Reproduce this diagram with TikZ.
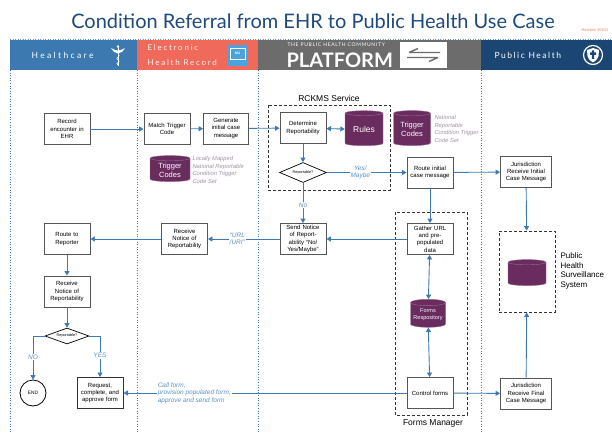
\documentclass[tikz,border=0pt]{standalone}
\usepackage{fontspec}
\setmainfont{Liberation Sans}
\newfontfamily\headfont{Lato}
\usetikzlibrary{arrows.meta,shapes.geometric}
\definecolor{titleblue}{RGB}{31,74,124}
\definecolor{hcblue}{RGB}{59,121,176}
\definecolor{ehrred}{RGB}{239,106,90}
\definecolor{platgray}{RGB}{108,108,108}
\definecolor{phnavy}{RGB}{27,70,115}
\definecolor{flowblue}{RGB}{61,122,181}
\definecolor{lblblue}{RGB}{92,147,201}
\definecolor{plum}{RGB}{106,43,95}
\definecolor{notegray}{RGB}{160,146,166}
\definecolor{boxgray}{RGB}{85,85,85}
\definecolor{mublue}{RGB}{74,163,223}
\definecolor{revorange}{RGB}{240,128,90}

\begin{document}
\begin{tikzpicture}[x=1pt,y=-1pt]
            \tikzstyle{every node}=[font=\fontsize{6}{7.3}\selectfont]
            \tikzstyle{procbox}=[draw=boxgray, line width=0.9pt, fill=white, minimum width=46pt, minimum height=31pt, text width=43pt, align=center, inner sep=1pt]
            \tikzstyle{decision}=[diamond, draw=black, line width=0.7pt, fill=white, aspect=2.4, minimum width=47pt, minimum height=20pt, inner sep=0pt, font=\fontsize{3.8}{4}\selectfont]
            \tikzstyle{db}=[cylinder, shape border rotate=90, aspect=0.22, fill=plum, draw=plum!70!white, line width=0.4pt, text=white, align=center, inner sep=0pt]
            \tikzstyle{note}=[anchor=west, align=left, text=notegray, font=\fontsize{5.8}{7.4}\selectfont\itshape]
            \tikzstyle{lbl}=[fill=white, text=lblblue, align=center, inner sep=1pt, font=\fontsize{6.5}{7.5}\selectfont\itshape]
            \tikzstyle{flow}=[draw=flowblue, line width=0.9pt, -{Triangle[length=4.5pt,width=5pt]}]
            \tikzstyle{twoway}=[flow, {Triangle[length=4.5pt,width=5pt]}-{Triangle[length=4.5pt,width=5pt]}]
            \tikzstyle{dashbox}=[draw=black!80, line width=0.8pt, dash pattern=on 3pt off 2pt]
            \tikzstyle{lane}=[draw=flowblue, line width=0.6pt, dotted]
            \useasboundingbox (0,0) rectangle (612,433);
            \node [font=\headfont\fontsize{20}{22}\selectfont, text=titleblue] (title) at (313,21) {Condition Referral from EHR to Public Health Use Case};
            \node [anchor=east, text=revorange, font=\fontsize{3.8}{4}\selectfont] (revised) at (612,30) {Revised: 8/3/15};
            \draw [draw=lblblue, line width=0.5pt, dotted] (10,39) -- (612,39);
            \fill [hcblue] (10,40) rectangle (137,70);
            \fill [ehrred] (137,40) rectangle (258,70);
            \fill [platgray] (258,40) rectangle (481,70);
            \fill [phnavy] (481,40) rectangle (612,70);
            \node [anchor=west, text=white, font=\headfont\fontsize{8.5}{9}\selectfont\addfontfeature{LetterSpace=28}] (hclabel) at (28,55) {Healthcare};
            \node [anchor=west, text=white!92!ehrred, align=left, font=\headfont\fontsize{8}{15}\selectfont\addfontfeature{LetterSpace=22}] (ehrlabel) at (144,55) {Electronic\\Health Record};
            \node [anchor=west, text=white, font=\headfont\fontsize{5}{5}\selectfont\addfontfeature{LetterSpace=14}] (plattop) at (284,44.5) {THE PUBLIC HEALTH COMMUNITY};
            \node [anchor=west, text=white, font=\headfont\fontsize{20}{20}\selectfont\bfseries] (platlabel) at (283,60) {PLATFORM};
            \node [anchor=west, text=white, font=\headfont\fontsize{8.5}{9}\selectfont\addfontfeature{LetterSpace=18}] (phlabel) at (491,55) {Public Health};
            \draw [white, line width=1pt] (118,46) -- (118,66);
            \fill [white] (118,46.5) circle (1.3);
            \fill [white] (111,48) .. controls (114,50) and (116,50) .. (118,50.5) .. controls (120,50) and (122,50) .. (125,48) .. controls (124,51) and (121,53) .. (118,53.5) .. controls (115,53) and (112,51) .. (111,48);
            \draw [white, line width=0.6pt] (118,54) .. controls (122,56) and (114,58) .. (118,60) .. controls (122,62) and (114,63) .. (118,65);
            \fill [mublue] (228,45) rectangle (247,66);
            \draw [white, line width=0.3pt] (230,48) rectangle (245,59);
            \node [text=white, font=\fontsize{3.5}{4}\selectfont\bfseries] (mulogo) at (237.5,53.5) {MU};
            \fill [white] (400,42) rectangle (447,68);
            \draw [platgray, line width=1.4pt] (409,52.5) -- (440,52.5) (409,52.5) -- (418,48.5);
            \draw [platgray, line width=1.4pt] (407,57.5) -- (438,57.5) (438,57.5) -- (429,61.5);
            \draw [white, line width=1.2pt] (593,55) circle (9.5);
            \fill [white] (587,50) -- (593,48) -- (599,50) -- (598.5,56) .. controls (597,60) and (595,61.5) .. (593,62.5) .. controls (591,61.5) and (589,60) .. (587.5,56) -- cycle;
            \fill [phnavy] (590,52.5) rectangle (596,55) (591.8,50.5) rectangle (594.2,59);
            \draw [lane] (10,70) -- (10,433);
            \draw [lane] (137,70) -- (137,433);
            \draw [lane] (258,70) -- (258,433);
            \draw [lane] (481,70) -- (481,433);
            \draw [dashbox] (268,105) rectangle (390,190);
            \node [font=\fontsize{8.5}{9}\selectfont] (rckms) at (329,98) {RCKMS Service};
            \draw [dashbox] (395,212) rectangle (467,415);
            \node [font=\fontsize{8.5}{9}\selectfont] (formsmgr) at (433,423) {Forms Manager};
            \node [dashbox, minimum width=56pt, minimum height=81pt] (phs) at (527,271.5) {};
            \node [anchor=west, align=left, font=\fontsize{8}{9.5}\selectfont] (phslabel) at (557,271) {Public\\Health\\Surveillance\\System};
            \node [procbox] (record) at (67,129) {Record\\encounter in\\EHR};
            \node [procbox] (match) at (167,129) {Match Trigger\\Code};
            \node [procbox, minimum width=44pt] (generate) at (226,128.5) {Generate\\initial case\\message};
            \node [db, minimum width=40pt, minimum height=26pt, font=\fontsize{7.5}{9}\selectfont] (triglocal) at (170,170) {Trigger\\Codes};
            \node [note] (triglocalnote) at (189,170) {Locally Mapped\\National Reportable\\Condition Trigger\\Code Set};
            \node [procbox] (determine) at (303,128) {Determine\\Reportability};
            \node [db, minimum width=38pt, minimum height=35pt, font=\fontsize{8.5}{9}\selectfont] (rules) at (364,129.5) {Rules};
            \node [db, minimum width=37pt, minimum height=35pt, font=\fontsize{7.5}{9}\selectfont] (trignat) at (412,129.5) {Trigger\\Codes};
            \node [note] (trignatnote) at (431,129) {National\\Reportable\\Condition Trigger\\Code Set};
            \node [decision] (reportable) at (303,172.5) {Reportable?};
            \node [procbox] (routeinit) at (430,172.5) {Route initial\\case message};
            \node [procbox] (sendnotice) at (303,239) {Send Notice\\of Report-\\ability ``No/\\Yes/Maybe''};
            \node [procbox] (gather) at (430,239) {Gather URL\\and pre-\\populated\\data};
            \node [db, minimum width=35pt, minimum height=28pt, font=\fontsize{5.5}{7}\selectfont] (formsrepo) at (428,315) {Forms\\Respository};
            \node [procbox] (control) at (430,393) {Control forms};
            \node [procbox, minimum width=51pt] (jurinit) at (526,172) {Jurisdiction\\Receive Initial\\Case Message};
            \node [db, minimum width=38pt, minimum height=26pt, font=\fontsize{7.5}{9}\selectfont] (phsdb) at (527,274) {\phantom{Trigger}\\\phantom{Codes}};
            \node [procbox, minimum width=51pt] (jurfinal) at (526,393.5) {Jurisdiction\\Receive Final\\Case Message};
            \node [procbox] (recvehr) at (184.5,239) {Receive\\Notice of\\Reportability};
            \node [procbox] (route) at (67,239) {Route to\\Reporter};
            \node [procbox] (recvhc) at (67,291.5) {Receive\\Notice of\\Reportability};
            \node [decision, minimum width=44pt, minimum height=16pt] (reportable2) at (67,336) {Reportable?};
            \node [circle, draw=black, line width=0.8pt, minimum size=26pt, inner sep=0pt, font=\fontsize{4.8}{5}\selectfont] (end) at (33,393) {END};
            \node [procbox, draw=black!80, line width=1pt] (request) at (100,393) {Request,\\complete, and\\approve form};
            \draw [flow] (record) -- (match);
            \draw [flow] (match) -- (generate);
            \draw [flow] (generate) -- (determine);
            \draw [twoway] (determine) -- (rules);
            \draw [flow] (determine) -- (reportable);
            \draw [flow] (reportable) -- node [lbl, pos=0.42] {Yes/\\Maybe} (routeinit);
            \draw [flow] (reportable) -- node [lbl, pos=0.55] {No} (sendnotice);
            \draw [flow] (routeinit) -- (jurinit);
            \draw [flow] (routeinit) -- (gather);
            \draw [flow] (gather) -- (sendnotice);
            \draw [flow] (sendnotice) -- node [lbl, pos=0.59] {``URL\\/URI''} (recvehr);
            \draw [flow] (recvehr) -- (route);
            \draw [flow] (route) -- (recvhc);
            \draw [flow] (recvhc) -- (reportable2);
            \draw [flow] (reportable2.west) -| node [lbl, pos=0.74] {NO} (end);
            \draw [flow] (reportable2.east) -| node [lbl, pos=0.74] {YES} (request);
            \draw [twoway] (gather) -- (formsrepo);
            \draw [twoway] (formsrepo) -- (control);
            \draw [flow] (control) -- node [lbl, pos=0.75, align=left] {Call form,\\provision populated form,\\approve and send form} (request);
            \draw [flow] (control) -- (jurfinal);
            \draw [flow] (jurinit) -- (phs);
            \draw [flow] (jurfinal) -- (phs);
        \end{tikzpicture}
\end{document}
